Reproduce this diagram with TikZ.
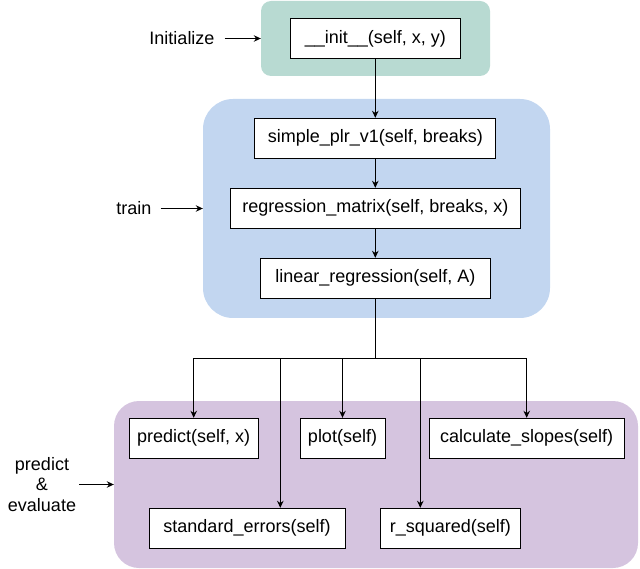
\documentclass[tikz,border=0pt]{standalone}
\usepackage{fontspec}
\setmainfont{Liberation Sans}
\usetikzlibrary{arrows.meta}
\definecolor{grn}{RGB}{184,218,210}
\definecolor{blu}{RGB}{194,214,240}
\definecolor{prp}{RGB}{213,196,223}
\begin{document}
\begin{tikzpicture}[x=1pt,y=-1pt,
  every node/.style={font=\fontsize{18}{21}\selectfont},
  fn/.style={draw=black, line width=1pt, fill=white, inner sep=0pt, minimum height=40pt},
  grp/.style={draw=none, inner sep=0pt},
  lbl/.style={align=center, inner sep=0pt},
  arr/.style={line width=1pt, -{Stealth[length=7pt,width=6.5pt]}},
  ln/.style={line width=1pt}]
\useasboundingbox (0,0) rectangle (640,569);
% groups
\node[grp, fill=grn, rounded corners=10pt, minimum width=229pt, minimum height=75pt] (g) at (375.5,38.5) {};
\node[grp, fill=blu, rounded corners=30pt, minimum width=347pt, minimum height=219pt] (b) at (376.5,208.5) {};
\node[grp, fill=prp, rounded corners=25pt, minimum width=524pt, minimum height=167pt] (p) at (376,484.5) {};
% functions
\node[fn, minimum width=170pt] (init) at (375.3,38.5) {\_\_init\_\_(self, x, y)};
\node[fn, minimum width=240.7pt] (spl) at (375.3,138.3) {simple\_plr\_v1(self, breaks)};
\node[fn, minimum width=290pt] (rm) at (375.3,208.3) {regression\_matrix(self, breaks, x)};
\node[fn, minimum width=230pt] (lr) at (375.3,278.3) {linear\_regression(self, A)};
\node[fn, minimum width=129.3pt] (pr) at (193.7,438.3) {predict(self, x)};
\node[fn, minimum width=85pt] (pl) at (342.5,438.3) {plot(self)};
\node[fn, minimum width=195.3pt] (cs) at (526.7,438.3) {calculate\_slopes(self)};
\node[fn, minimum width=196pt] (se) at (247,528.3) {standard\_errors(self)};
\node[fn, minimum width=140pt] (rs) at (450.3,528.3) {r\_squared(self)};
% side labels
\node[lbl] (ini) at (182,38.5) {Initialize};
\node[lbl] (tr) at (134,208.5) {train};
\node[lbl, font=\fontsize{18}{20.5}\selectfont] (pe) at (42,484.5) {predict\\\&\\evaluate};
\draw[arr] ([xshift=10pt]ini.east) -- (g.west);
\draw[arr] ([xshift=9pt]tr.east) -- (b.west);
\draw[arr] ([xshift=3pt]pe.east) -- (p.west);
% flow
\draw[arr] (init) -- (spl);
\draw[arr] (spl) -- (rm);
\draw[arr] (rm) -- (lr);
\coordinate (j) at (375.3,358.3);
\draw[ln] (lr.south) -- (j);
\draw[arr] (j) -| (pr.north);
\draw[arr] (j) -| ([xshift=33.3pt]se.north);
\draw[arr] (j) -| (pl.north);
\draw[arr] (j) -| ([xshift=-30pt]rs.north);
\draw[arr] (j) -| (cs.north);
\end{tikzpicture}
\end{document}
